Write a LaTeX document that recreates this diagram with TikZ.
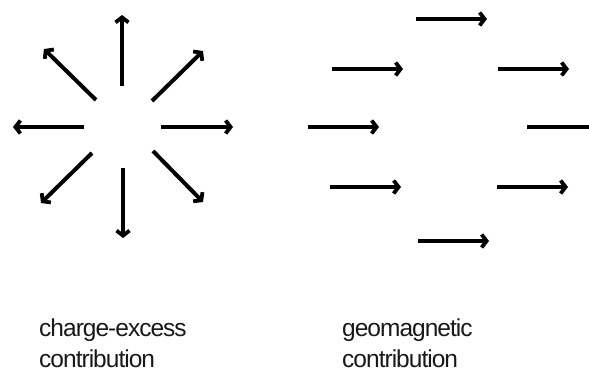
\documentclass[tikz,border=0pt]{standalone}
\usepackage{fontspec}
\setmainfont{Liberation Sans}
\newfontfamily\lblfont[LetterSpace=-4]{Liberation Sans}
\usetikzlibrary{arrows.meta}
\begin{document}
\begin{tikzpicture}[x=1pt,y=-1pt,
  vec/.style={line width=4pt,-{Straight Barb[length=5pt,width=13pt,line width=3.8pt]}},
  bar/.style={line width=4pt},
  lbl/.style={anchor=base west,inner sep=0pt,font=\lblfont\fontsize{24.5}{30}\selectfont,text=black!90}]
\useasboundingbox (0,0) rectangle (589,371);
% charge-excess: radial
\coordinate (u0) at (122,86);  \coordinate (u1) at (122,15);
\coordinate (d0) at (123,168); \coordinate (d1) at (123,238);
\coordinate (l0) at (84,127);  \coordinate (l1) at (13,127);
\coordinate (r0) at (161,127); \coordinate (r1) at (233,127);
\coordinate (ul0) at (96,100); \coordinate (ul1) at (44,49);
\coordinate (ur0) at (152,101);\coordinate (ur1) at (203,51);
\coordinate (dl0) at (92,153); \coordinate (dl1) at (41,203);
\coordinate (dr0) at (153,151);\coordinate (dr1) at (203,202);
\foreach \a in {u,d,l,r,ul,ur,dl,dr} \draw[vec] (\a0) -- (\a1);
% geomagnetic: parallel
\coordinate (g10) at (416,19);  \coordinate (g11) at (487,19);
\coordinate (g20) at (332,69);  \coordinate (g21) at (403,69);
\coordinate (g30) at (498,69);  \coordinate (g31) at (569,69);
\coordinate (g40) at (308,127); \coordinate (g41) at (379,127);
\coordinate (g50) at (330,187); \coordinate (g51) at (401,187);
\coordinate (g60) at (497,187); \coordinate (g61) at (568,187);
\coordinate (g70) at (418,241); \coordinate (g71) at (489,241);
\foreach \a in {g1,g2,g3,g4,g5,g6,g7} \draw[vec] (\a0) -- (\a1);
\coordinate (g80) at (527,127); \coordinate (g81) at (589,127);
\draw[bar] (g80) -- (g81);
% labels
\node[lbl] (ce1) at (39,337) {charge-excess};
\node[lbl] (ce2) at (39,367) {contribution};
\node[lbl] (gm1) at (342,337) {geomagnetic};
\node[lbl] (gm2) at (342,367) {contribution};
\end{tikzpicture}
\end{document}
